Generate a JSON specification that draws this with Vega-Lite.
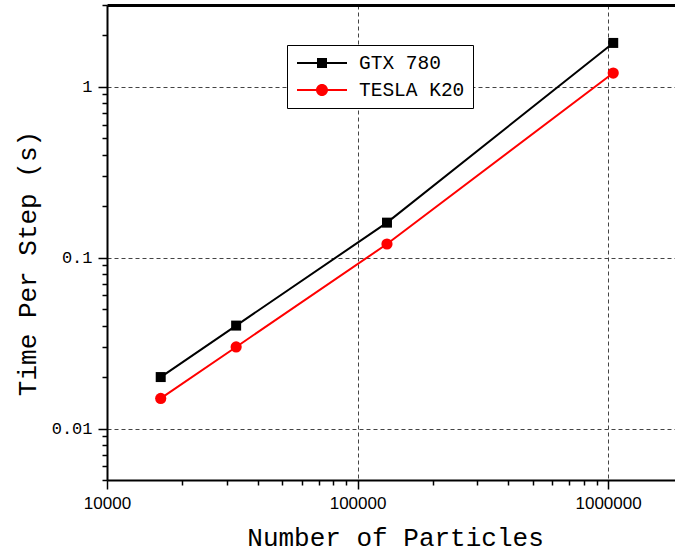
{
  "$schema": "https://vega.github.io/schema/vega-lite/v6.json",
  "width": 568,
  "height": 475,
  "autosize": "none",
  "padding": {"left": 107, "top": 5, "right": 0, "bottom": 74},
  "background": "white",
  "config": {"view": {"stroke": null}},
  "data": {
    "values": [
      {"series": "GTX 780", "n": 16384, "t": 0.02},
      {"series": "GTX 780", "n": 32768, "t": 0.04},
      {"series": "GTX 780", "n": 131072, "t": 0.16},
      {"series": "GTX 780", "n": 1048576, "t": 1.8},
      {"series": "TESLA K20", "n": 16384, "t": 0.015},
      {"series": "TESLA K20", "n": 32768, "t": 0.03},
      {"series": "TESLA K20", "n": 131072, "t": 0.12},
      {"series": "TESLA K20", "n": 1048576, "t": 1.2}
    ]
  },
  "resolve": {"axis": {"x": "independent", "y": "independent"}},
  "layer": [
    {
      "mark": {"type": "line", "strokeWidth": 2},
      "encoding": {
        "x": {
          "field": "n", "type": "quantitative",
          "scale": {"type": "log", "domain": [10000, 1850000], "nice": false},
          "axis": {
            "orient": "bottom",
            "values": [10000, 100000, 1000000],
            "format": "d",
            "title": "Number of Particles",
            "titleFont": "Liberation Mono", "titleFontSize": 26, "titleFontWeight": "normal", "titleColor": "black",
            "titleX": 288, "titleY": 65, "titleBaseline": "alphabetic",
            "labelFont": "Liberation Sans", "labelFontSize": 17, "labelColor": "black", "labelPadding": 6,
            "labelFlush": false,
            "tickSize": 9, "tickWidth": 1.5, "tickColor": "black",
            "domainColor": "black", "domainWidth": 2,
            "grid": true, "gridColor": "#444", "gridDash": [4, 3], "gridWidth": 1
          }
        },
        "y": {
          "field": "t", "type": "quantitative",
          "scale": {"type": "log", "domain": [0.005, 3], "nice": false},
          "axis": {
            "orient": "left",
            "values": [0.01, 0.1, 1],
            "labelExpr": "datum.value >= 1 ? '1' : datum.value >= 0.1 ? '0.1' : '0.01'",
            "title": "Time Per Step (s)",
            "titleFont": "Liberation Mono", "titleFontSize": 26, "titleFontWeight": "normal", "titleColor": "black",
            "titleX": -80, "titleY": 258, "titleBaseline": "middle", "titleAngle": -90,
            "labelFont": "Liberation Mono", "labelFontSize": 17, "labelColor": "black", "labelPadding": 6,
            "labelFlush": false,
            "tickSize": 9, "tickWidth": 1.5, "tickColor": "black",
            "domainColor": "black", "domainWidth": 2,
            "grid": true, "gridColor": "#444", "gridDash": [4, 3], "gridWidth": 1
          }
        },
        "color": {
          "field": "series", "type": "nominal",
          "scale": {"domain": ["GTX 780", "TESLA K20"], "range": ["#000000", "#ff0000"]},
          "legend": {
            "orient": "none", "legendX": 180, "legendY": 40,
            "title": null,
            "strokeColor": "black", "fillColor": "white", "padding": 8,
            "symbolType": "M-2.5,-0.1H2.5V0.1H-2.5Z",
            "symbolSize": 400, "symbolStrokeWidth": 0, "symbolOffset": 17,
            "labelFont": "Liberation Mono", "labelFontSize": 19.5, "labelColor": "black",
            "labelOffset": 27, "rowPadding": 7,
            "encode": {
              "symbols": {
                "update": {
                  "shape": {"signal": "datum.value === 'GTX 780' ? 'M-2.5,-0.1H2.5V0.1H-2.5Z M-0.5,-0.5H0.5V0.5H-0.5Z' : 'M-2.5,-0.1H2.5V0.1H-2.5Z M-0.6,0A0.6,0.6,0,1,1,0.6,0A0.6,0.6,0,1,1,-0.6,0Z'"},
                  "fill": {"signal": "datum.value === 'GTX 780' ? '#000000' : '#ff0000'"},
                  "fillOpacity": {"value": 1},
                  "strokeWidth": {"value": 0}
                }
              }
            }
          }
        }
      }
    },
    {
      "transform": [{"filter": "datum.series === 'GTX 780'"}],
      "mark": {"type": "point", "shape": "square", "filled": true, "opacity": 1, "color": "#000000", "size": 100},
      "encoding": {
        "x": {
          "field": "n", "type": "quantitative",
          "scale": {"type": "log", "domain": [10000, 1850000], "nice": false},
          "axis": {
            "orient": "bottom",
            "values": [20000, 30000, 40000, 50000, 60000, 70000, 80000, 90000, 200000, 300000, 400000, 500000, 600000, 700000, 800000, 900000],
            "labels": false, "domain": false, "grid": false, "title": null,
            "tickSize": 5, "tickWidth": 1.5, "tickColor": "black"
          }
        },
        "y": {
          "field": "t", "type": "quantitative",
          "scale": {"type": "log", "domain": [0.005, 3], "nice": false},
          "axis": {
            "orient": "left",
            "values": [0.005, 0.006, 0.007, 0.008, 0.009, 0.02, 0.03, 0.04, 0.05, 0.06, 0.07, 0.08, 0.09, 0.2, 0.3, 0.4, 0.5, 0.6, 0.7, 0.8, 0.9, 2, 3],
            "labels": false, "domain": false, "grid": false, "title": null,
            "tickSize": 5, "tickWidth": 1.5, "tickColor": "black"
          }
        }
      }
    },
    {
      "transform": [{"filter": "datum.series === 'TESLA K20'"}],
      "mark": {"type": "point", "shape": "circle", "filled": true, "opacity": 1, "color": "#ff0000", "size": 125},
      "encoding": {
        "x": {
          "field": "n", "type": "quantitative",
          "scale": {"type": "log", "domain": [10000, 1850000], "nice": false},
          "axis": {
            "orient": "top", "labels": false, "ticks": false, "grid": false, "title": null,
            "domainColor": "black", "domainWidth": 3
          }
        },
        "y": {
          "field": "t", "type": "quantitative",
          "scale": {"type": "log", "domain": [0.005, 3], "nice": false},
          "axis": null
        }
      }
    }
  ]
}
